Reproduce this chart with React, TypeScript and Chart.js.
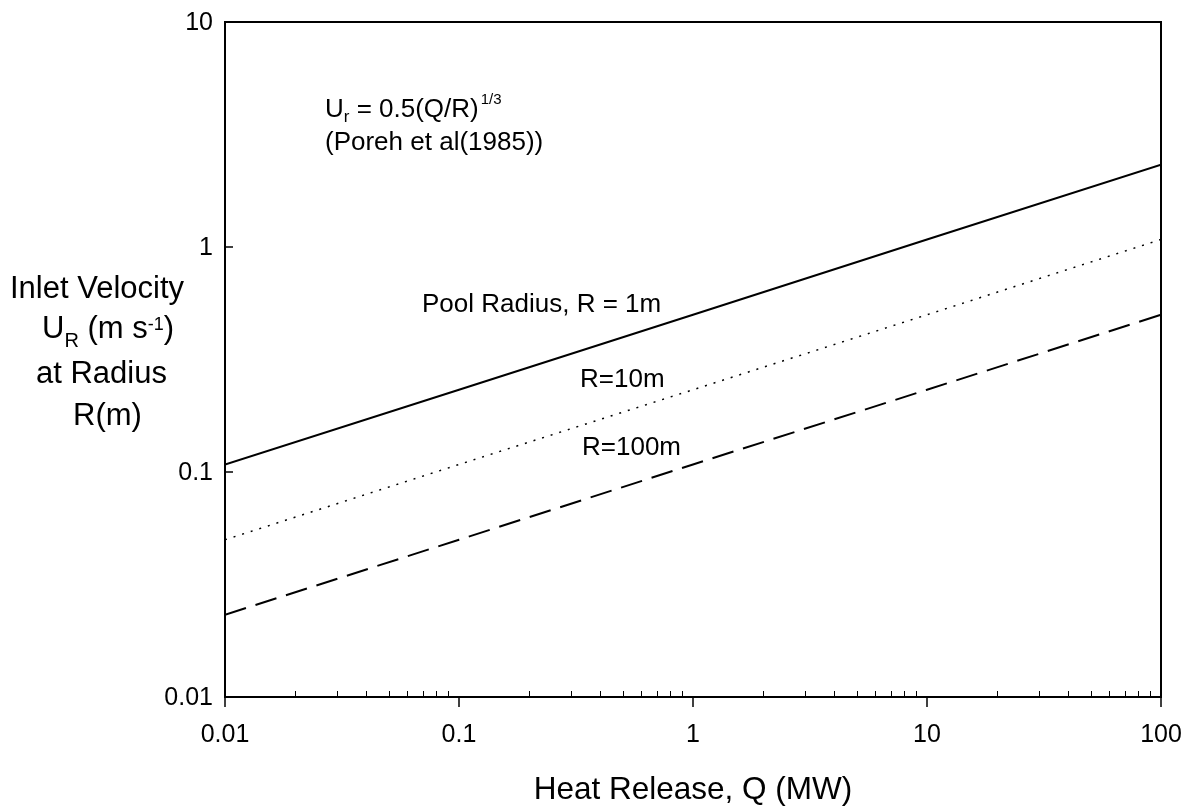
import React, { useEffect, useRef } from "react";
import { Chart, registerables } from "chart.js";

Chart.register(...registerables);

// Heat release Q (MW)
const Q_VALUES = [0.01, 0.1, 1, 10, 100];
// Inlet velocity U_R (m/s)
const R1_VALUES = [0.108, 0.232, 0.5, 1.08, 2.32];
const R10_VALUES = [0.05, 0.108, 0.232, 0.5, 1.08];
const R100_VALUES = [0.0232, 0.05, 0.108, 0.232, 0.5];

const X_TICKS = [0.01, 0.1, 1, 10, 100];
const X_TICK_LABELS = ["0.01", "0.1", "1", "10", "100"];
const Y_TICKS = [0.01, 0.1, 1, 10];
const Y_TICK_LABELS = ["0.01", "0.1", "1", "10"];

const FONT = '"Liberation Sans", Arial, sans-serif';
const f = (s: number) => `${s}px ${FONT}`;

const overlay = {
  id: "overlay",
  afterDraw(chart: any) {
    const { ctx, chartArea: a, scales } = chart;
    const xs = scales.x;
    const ys = scales.y;
    ctx.save();
    ctx.strokeStyle = "#000";
    ctx.fillStyle = "#000";

    const line = (x1: number, y1: number, x2: number, y2: number) => {
      ctx.beginPath();
      ctx.moveTo(x1, y1);
      ctx.lineTo(x2, y2);
      ctx.stroke();
    };

    // frame
    ctx.lineWidth = 2;
    ctx.strokeRect(a.left, a.top, a.right - a.left, a.bottom - a.top);

    // x major ticks (outward)
    ctx.lineWidth = 1.5;
    X_TICKS.forEach((v) => {
      const px = Math.round(xs.getPixelForValue(v));
      line(px, a.bottom, px, a.bottom + 10);
    });
    // x minor ticks (inward)
    ctx.lineWidth = 1;
    for (let i = 0; i < X_TICKS.length - 1; i++) {
      for (let m = 2; m <= 9; m++) {
        const px = Math.round(xs.getPixelForValue(X_TICKS[i] * m)) + 0.5;
        line(px, a.bottom, px, a.bottom - 6);
      }
    }
    // y major ticks (inward)
    ctx.lineWidth = 1.5;
    Y_TICKS.forEach((v) => {
      const py = Math.round(ys.getPixelForValue(v));
      line(a.left, py, a.left + 8, py);
    });

    // tick labels
    ctx.font = f(25);
    ctx.textBaseline = "middle";
    ctx.textAlign = "right";
    Y_TICKS.forEach((v, i) => {
      ctx.fillText(Y_TICK_LABELS[i], a.left - 12, ys.getPixelForValue(v) + 1);
    });
    ctx.textBaseline = "alphabetic";
    ctx.textAlign = "center";
    X_TICKS.forEach((v, i) => {
      ctx.fillText(X_TICK_LABELS[i], xs.getPixelForValue(v), a.bottom + 45);
    });

    // x title
    ctx.font = f(31.5);
    ctx.fillText("Heat Release, Q (MW)", (a.left + a.right) / 2, 799);

    // y title
    ctx.textAlign = "left";
    ctx.font = f(31);
    ctx.fillText("Inlet Velocity", 10, 298);
    let x = 42;
    const seg = (t: string, size: number, y: number) => {
      ctx.font = f(size);
      ctx.fillText(t, x, y);
      x += ctx.measureText(t).width;
    };
    seg("U", 31, 338);
    seg("R", 20, 347);
    seg(" (m s", 31, 338);
    seg("-1", 18, 330);
    seg(")", 31, 338);
    ctx.font = f(31);
    ctx.fillText("at Radius", 36, 383);
    ctx.fillText("R(m)", 73, 425);

    // annotations
    x = 325;
    seg("U", 26, 117);
    seg("r", 17, 122);
    seg(" = 0.5(Q/R)", 26, 117);
    x += 2;
    seg("1/3", 15, 104);
    ctx.font = f(26);
    ctx.fillText("(Poreh et al(1985))", 325, 150);
    ctx.fillText("Pool Radius, R = 1m", 422, 312);
    ctx.fillText("R=10m", 580, 387);
    ctx.fillText("R=100m", 582, 455);

    ctx.restore();
  },
};

export default function App() {
  const ref = useRef<HTMLCanvasElement | null>(null);

  useEffect(() => {
    if (!ref.current) return;
    const mk = (vals: number[]) => Q_VALUES.map((q, i) => ({ x: q, y: vals[i] }));
    const chart = new Chart(ref.current, {
      type: "line",
      data: {
        datasets: [
          {
            label: "R = 1m",
            data: mk(R1_VALUES),
            borderColor: "#000",
            borderWidth: 2,
            pointRadius: 0,
            tension: 0,
          },
          {
            label: "R = 10m",
            data: mk(R10_VALUES),
            borderColor: "#000",
            borderWidth: 1.5,
            borderDash: [2, 7],
            pointRadius: 0,
            tension: 0,
          },
          {
            label: "R = 100m",
            data: mk(R100_VALUES),
            borderColor: "#000",
            borderWidth: 2,
            borderDash: [22, 10],
            pointRadius: 0,
            tension: 0,
          },
        ],
      },
      options: {
        animation: false,
        responsive: false,
        devicePixelRatio: 1,
        layout: { padding: { left: 225, right: 28, top: 22, bottom: 110 } },
        plugins: {
          legend: { display: false },
          tooltip: { enabled: false },
        },
        scales: {
          x: { type: "logarithmic", min: 0.01, max: 100, display: false },
          y: { type: "logarithmic", min: 0.01, max: 10, display: false },
        },
      },
      plugins: [overlay],
    });
    return () => chart.destroy();
  }, []);

  return (
    <div
      style={{
        position: "absolute",
        left: 0,
        top: 0,
        width: 1189,
        height: 807,
        background: "#fff",
      }}
    >
      <canvas ref={ref} width={1189} height={807} style={{ display: "block" }} />
    </div>
  );
}
